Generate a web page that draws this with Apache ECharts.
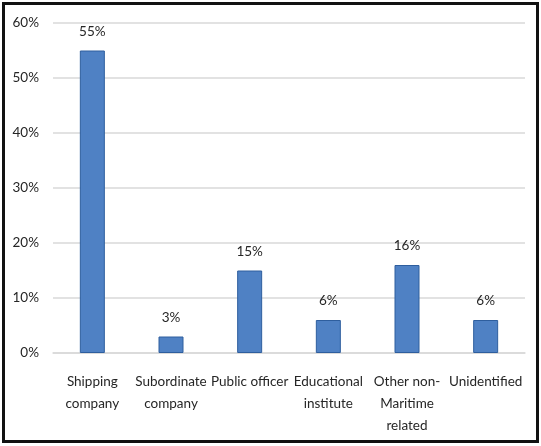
<!DOCTYPE html>
<html>
<head>
<meta charset="utf-8">
<script src="https://cdn.jsdelivr.net/npm/echarts@6/dist/echarts.min.js"></script>
<style>
  html, body { margin: 0; padding: 0; background: #fff; }
  #chart { width: 541px; height: 446px; }
</style>
</head>
<body>
<div id="chart"></div>
<script>
// Respondent affiliation categories and their shares (%)
const categories = [
  'Shipping\ncompany',
  'Subordinate\ncompany',
  'Public officer',
  'Educational\ninstitute',
  'Other non-\nMaritime\nrelated',
  'Unidentified'
];
const shares = [55, 3, 15, 6, 16, 6];
const yTicks = { min: 0, max: 60, interval: 10 };

const FONT = 'Lato, "Liberation Sans", Arial, sans-serif';
const TEXT = '#262626';

const chart = echarts.init(document.getElementById('chart'), null, { renderer: 'canvas' });
chart.setOption({
  animation: false,
  backgroundColor: '#fff',
  graphic: [
    {
      type: 'rect',
      shape: { x: 3.5, y: 3.5, width: 534, height: 438 },
      style: { fill: 'none', stroke: '#111', lineWidth: 3 },
      z: 100
    }
  ],
  grid: { left: 53, right: 16, top: 23, bottom: 93, containLabel: false },
  xAxis: {
    type: 'category',
    data: categories,
    axisLine: { show: true, lineStyle: { color: '#d9d9d9', width: 1.5 } },
    axisTick: { show: false },
    axisLabel: {
      interval: 0,
      margin: 18,
      color: TEXT,
      fontFamily: FONT,
      fontSize: 13.5,
      lineHeight: 22
    }
  },
  yAxis: {
    type: 'value',
    min: yTicks.min,
    max: yTicks.max,
    interval: yTicks.interval,
    axisLine: { show: false },
    axisTick: { show: false },
    splitLine: { lineStyle: { color: '#d9d9d9', width: 1.5 } },
    axisLabel: {
      formatter: '{value}%',
      margin: 14,
      color: TEXT,
      fontFamily: FONT,
      fontSize: 13.5
    }
  },
  series: [{
    type: 'bar',
    data: shares,
    barWidth: 25,
    itemStyle: { color: '#4f81c4', borderColor: '#2e5e9e', borderWidth: 1 },
    label: {
      show: true,
      position: 'top',
      distance: 12,
      formatter: '{c}%',
      color: TEXT,
      fontFamily: FONT,
      fontSize: 13.5
    }
  }]
});
</script>
</body>
</html>
